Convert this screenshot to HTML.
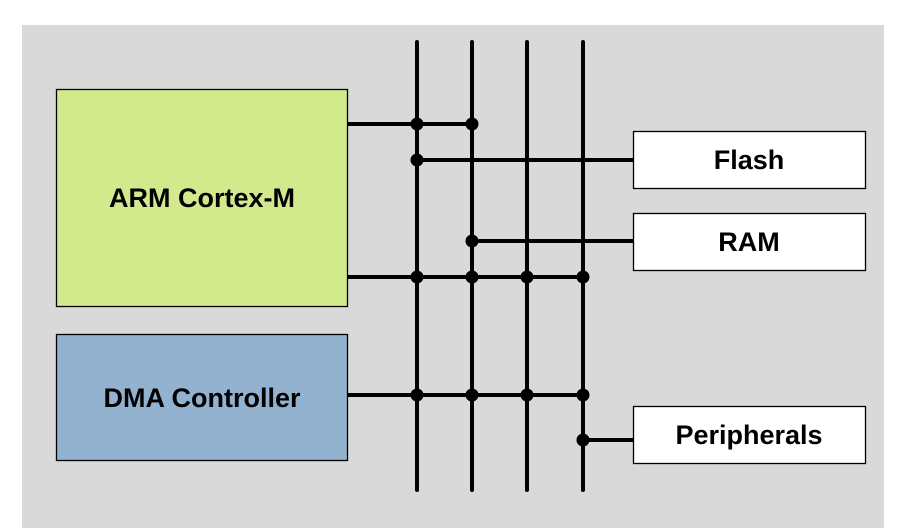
<!DOCTYPE html>
<html><head><style>body{margin:0;background:#fff}svg{display:block}text{font-family:"Liberation Sans",sans-serif;font-weight:bold;font-size:27px;text-anchor:middle}</style></head>
<body>
<svg width="901" height="528" xmlns="http://www.w3.org/2000/svg">
<rect x="22" y="25" width="862" height="503" fill="#d9d9d9"/>
<rect x="56.5" y="89.5" width="291" height="217" fill="#d2ea8c" stroke="#000" stroke-width="1.3"/>
<rect x="56.5" y="334.5" width="291" height="126" fill="#92b2cf" stroke="#000" stroke-width="1.3"/>
<rect x="633.5" y="131.5" width="232" height="57" fill="#fff" stroke="#000" stroke-width="1.3"/>
<rect x="633.5" y="213.5" width="232" height="57" fill="#fff" stroke="#000" stroke-width="1.3"/>
<rect x="633.5" y="406.5" width="232" height="57" fill="#fff" stroke="#000" stroke-width="1.3"/>
<g stroke="#000" stroke-width="4" stroke-linecap="round">
<line x1="417" y1="42" x2="417" y2="490"/>
<line x1="472" y1="42" x2="472" y2="490"/>
<line x1="527" y1="42" x2="527" y2="490"/>
<line x1="583" y1="42" x2="583" y2="490"/>
</g>
<g stroke="#000" stroke-width="4">
<line x1="348" y1="124" x2="472" y2="124"/>
<line x1="417" y1="160" x2="633" y2="160"/>
<line x1="472" y1="241" x2="633" y2="241"/>
<line x1="348" y1="277" x2="583" y2="277"/>
<line x1="348" y1="395" x2="583" y2="395"/>
<line x1="583" y1="440" x2="633" y2="440"/>
</g>
<g fill="#000">
<circle cx="417" cy="124" r="6.5"/><circle cx="472" cy="124" r="6.5"/>
<circle cx="417" cy="160" r="6.5"/><circle cx="472" cy="241" r="6.5"/>
<circle cx="417" cy="277" r="6.5"/><circle cx="472" cy="277" r="6.5"/><circle cx="527" cy="277" r="6.5"/><circle cx="583" cy="277" r="6.5"/>
<circle cx="417" cy="395" r="6.5"/><circle cx="472" cy="395" r="6.5"/><circle cx="527" cy="395" r="6.5"/><circle cx="583" cy="395" r="6.5"/>
<circle cx="583" cy="440" r="6.5"/>
</g>
<text x="202" y="207">ARM Cortex-M</text>
<text x="202" y="407">DMA Controller</text>
<text x="749" y="169">Flash</text>
<text x="749" y="251">RAM</text>
<text x="749" y="444">Peripherals</text>
</svg>
</body></html>
